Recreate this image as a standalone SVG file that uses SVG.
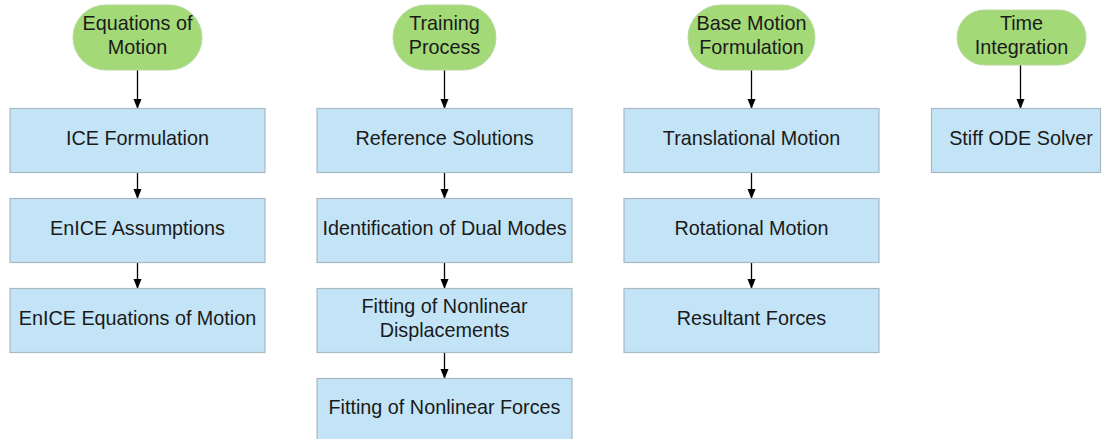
<svg xmlns="http://www.w3.org/2000/svg" width="1102" height="439" viewBox="0 0 1102 439">
<style>
.box{fill:#c3e4f6;stroke:#a9b9c2;stroke-width:1.2}
.term{fill:#a3d977;stroke:#b9d8a0;stroke-width:1}
text{font-family:"Liberation Sans",Arial,sans-serif;font-size:19.8px;fill:#1a1a1a;text-anchor:middle}
.c{stroke:#000;stroke-width:1.3;fill:none;marker-end:url(#ah)}
</style>
<defs>
<marker id="ah" markerWidth="10" markerHeight="12" refX="9" refY="5" orient="auto" markerUnits="userSpaceOnUse" viewBox="0 0 10 10">
<path d="M0,1 L10,5 L0,9 z" fill="#000"/>
</marker>
</defs>
<rect width="1102" height="439" fill="#fff"/>
<g id="connectors">
<path class="c" d="M137.5,70 V108"/>
<path class="c" d="M137.5,172 V198"/>
<path class="c" d="M137.5,262 V288"/>
<path class="c" d="M444.5,70 V108"/>
<path class="c" d="M444.5,172 V198"/>
<path class="c" d="M444.5,262 V288"/>
<path class="c" d="M444.5,352 V378"/>
<path class="c" d="M751.5,70 V108"/>
<path class="c" d="M751.5,172 V198"/>
<path class="c" d="M751.5,262 V288"/>
<path class="c" d="M1020.5,65 V108"/>
</g>
<g id="n-eom"><rect class="term" x="73" y="5" width="129" height="65" rx="32.5"/><text x="137.5" y="30">Equations of</text><text x="137.5" y="54">Motion</text></g>
<g id="n-ice"><rect class="box" x="10" y="108.5" width="255" height="64"/><text x="137.5" y="145">ICE Formulation</text></g>
<g id="n-enice-a"><rect class="box" x="10" y="198.5" width="255" height="64"/><text x="137.5" y="235">EnICE Assumptions</text></g>
<g id="n-enice-eom"><rect class="box" x="10" y="288.5" width="255" height="64"/><text x="137.5" y="325">EnICE Equations of Motion</text></g>

<g id="n-train"><rect class="term" x="393" y="5" width="103" height="65" rx="32.5"/><text x="444.5" y="30">Training</text><text x="444.5" y="54">Process</text></g>
<g id="n-ref"><rect class="box" x="317" y="108.5" width="255" height="64"/><text x="444.5" y="145">Reference Solutions</text></g>
<g id="n-dual"><rect class="box" x="317" y="198.5" width="255" height="64"/><text x="444.5" y="235">Identification of Dual Modes</text></g>
<g id="n-fitd"><rect class="box" x="317" y="288.5" width="255" height="64"/><text x="444.5" y="313">Fitting of Nonlinear</text><text x="444.5" y="337">Displacements</text></g>
<g id="n-fitf"><rect class="box" x="317" y="378.5" width="255" height="64"/><text x="444.5" y="414">Fitting of Nonlinear Forces</text></g>

<g id="n-base"><rect class="term" x="688" y="5" width="127" height="65" rx="32.5"/><text x="751.5" y="30">Base Motion</text><text x="751.5" y="54">Formulation</text></g>
<g id="n-trans"><rect class="box" x="624" y="108.5" width="255" height="64"/><text x="751.5" y="145">Translational Motion</text></g>
<g id="n-rot"><rect class="box" x="624" y="198.5" width="255" height="64"/><text x="751.5" y="235">Rotational Motion</text></g>
<g id="n-res"><rect class="box" x="624" y="288.5" width="255" height="64"/><text x="751.5" y="325">Resultant Forces</text></g>

<g id="n-time"><rect class="term" x="957" y="10" width="129" height="55" rx="27.5"/><text x="1021.5" y="30">Time</text><text x="1021.5" y="54">Integration</text></g>
<g id="n-ode"><rect class="box" x="931.5" y="108.5" width="169" height="64"/><text x="1021" y="145">Stiff ODE Solver</text></g>
</svg>
